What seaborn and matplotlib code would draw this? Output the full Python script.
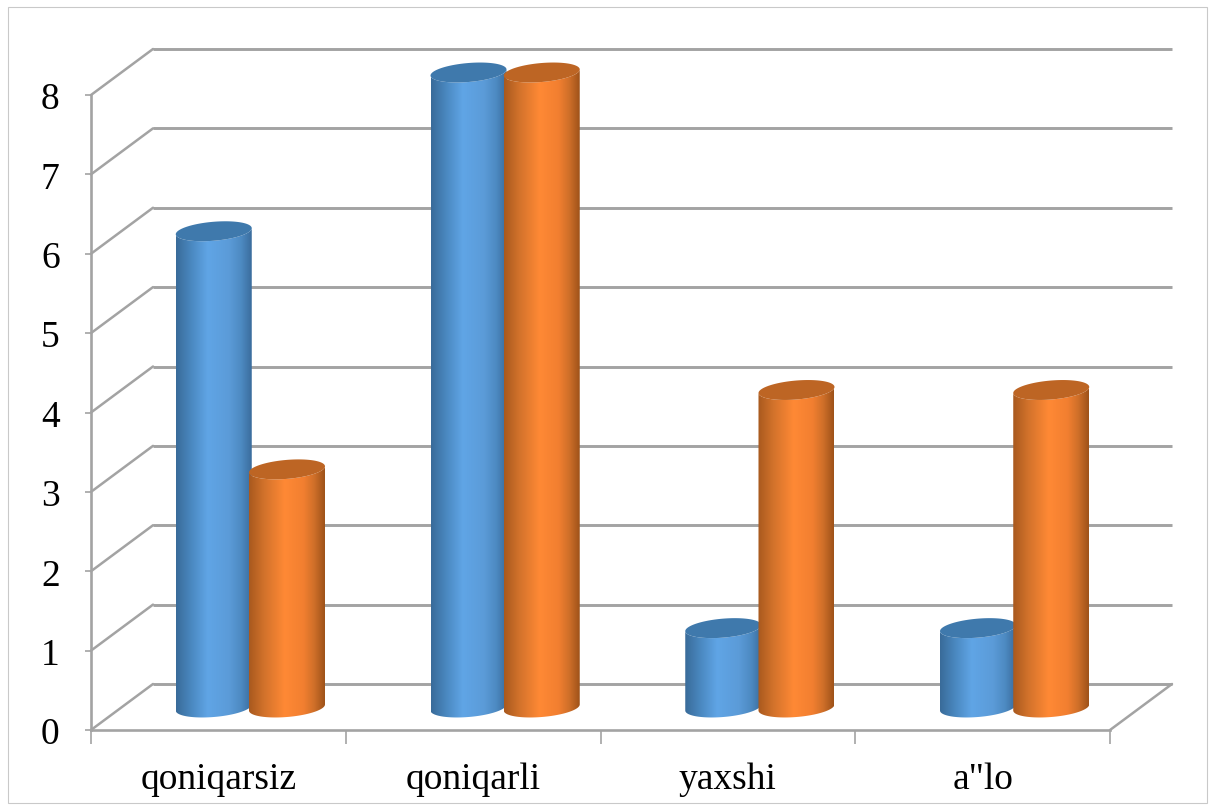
import numpy as np
import pandas as pd
import seaborn as sns
import matplotlib.pyplot as plt
from matplotlib.colors import LinearSegmentedColormap
from matplotlib.patches import Polygon, Rectangle

categories = ['qoniqarsiz', 'qoniqarli', 'yaxshi', 'a"lo']
series_a = [6, 8, 1, 1]
series_b = [3, 8, 4, 4]
y_ticks = [0, 1, 2, 3, 4, 5, 6, 7, 8]

sns.set_theme(style='white')
plt.rcParams['font.family'] = ['Liberation Serif', 'DejaVu Serif']

W, H = 1215, 812
GRID = '#a3a3a3'
fig = plt.figure(figsize=(W / 100, H / 100), dpi=100)
ax = fig.add_axes([91 / W, (H - 731) / H, 1019 / W, 635 / H])

df = pd.DataFrame({
    'cat': categories * 2,
    'val': series_a + series_b,
    'ser': ['a'] * 4 + ['b'] * 4,
})
sns.barplot(data=df, x='cat', y='val', hue='ser', width=0.575, legend=False,
            palette=['#5b9bd5', '#ed7d31'], ax=ax)
xlim = (-0.5, 3.5)
ylim = (0, 8)
ax.set_xlim(xlim)
ax.set_ylim(ylim)

# pixels per data unit, the fake 3d depth is worked out in data units
px_x = 1019 / 4
px_y = 635 / 8
depth_x = 62 / px_x
depth_y = 46 / px_y

# back wall and side wall
for v in y_ticks:
    ax.plot([xlim[0] + depth_x, xlim[1] + depth_x], [v + depth_y, v + depth_y],
            color=GRID, lw=2.1, clip_on=False, zorder=1, solid_capstyle='butt')
    ax.plot([xlim[0], xlim[0] + depth_x], [v, v + depth_y],
            color=GRID, lw=1.8, clip_on=False, zorder=1)
ax.plot([xlim[1], xlim[1] + depth_x], [0, depth_y], color=GRID, lw=1.8,
        clip_on=False, zorder=1)

cmap_a = LinearSegmentedColormap.from_list('a', [
    (0, '#396b99'), (0.2, '#4a88c0'), (0.42, '#60a5e6'), (0.7, '#5b9bd8'),
    (0.86, '#4d8ac2'), (1, '#3a6c9c')])
cmap_b = LinearSegmentedColormap.from_list('b', [
    (0, '#a8591e'), (0.2, '#d2722b'), (0.47, '#ff8935'), (0.72, '#f27f30'),
    (0.86, '#cf6f29'), (1, '#9e5219')])
top_colors = ['#3f79ac', '#bd6524']
gradient = np.linspace(0, 1, 256).reshape(1, -1)

# cylinders are built from the bars seaborn placed
rad_x = 38 / px_x
rad_y = 9.5 / px_y
shear = 0.08
shift_x = 32 / px_x
shift_y = 22.5 / px_y
t_low = np.linspace(np.pi, 2 * np.pi, 60)
t_all = np.linspace(0, 2 * np.pi, 120)


def ring(cx, cy, t):
    xs = cx + rad_x * np.cos(t)
    ys = cy + rad_y * np.sin(t) + shear * 38 * np.cos(t) / px_y
    return np.column_stack([xs, ys])


for i, bar in enumerate(ax.patches):
    bar.set_visible(False)
    n = i // 4
    cx = bar.get_x() + bar.get_width() / 2 + shift_x
    low = shift_y
    high = bar.get_height() + shift_y
    z = 3 + n + i * 0.01
    side = np.vstack([ring(cx, low, t_low), ring(cx, high, t_low)[::-1]])
    clip = Polygon(side, closed=True, transform=ax.transData, fc='none', ec='none')
    ax.add_patch(clip)
    im = ax.imshow(gradient, cmap=[cmap_a, cmap_b][n], aspect='auto', zorder=z,
                   extent=(cx - rad_x, cx + rad_x, low - 1, high + 1))
    im.set_clip_box(fig.bbox)
    im.set_clip_path(clip)
    ax.add_patch(Polygon(ring(cx, high, t_all), closed=True, fc=top_colors[n],
                         ec='none', clip_on=False, zorder=z + 0.001))

ax.set_xlim(xlim)
ax.set_ylim(ylim)
ax.set_aspect('auto')

ax.set_xlabel('')
ax.set_ylabel('')
ax.set_yticks(y_ticks)
ax.set_xticks([-0.5, 0.5, 1.5, 2.5, 3.5], [''] * 5)
ax.set_xticks(range(4), categories, minor=True)
ax.tick_params(axis='y', left=True, length=4.5, width=1.2, color=GRID, pad=18,
               labelsize=27, labelcolor='black')
ax.tick_params(axis='x', which='major', bottom=True, length=10, width=1.2, color=GRID)
ax.tick_params(axis='x', which='minor', bottom=False, length=0, pad=23,
               labelsize=27, labelcolor='black')
sns.despine(ax=ax)
for s in ['left', 'bottom']:
    ax.spines[s].set_color(GRID)
    ax.spines[s].set_linewidth(1.9)

# thin chart frame
fig.add_artist(Rectangle((8 / W, (H - 804) / H), 1199 / W, 796 / H, fill=False,
                         ec='#c9c9c9', lw=0.8, transform=fig.transFigure))

fig.savefig('out.png', dpi=100)
